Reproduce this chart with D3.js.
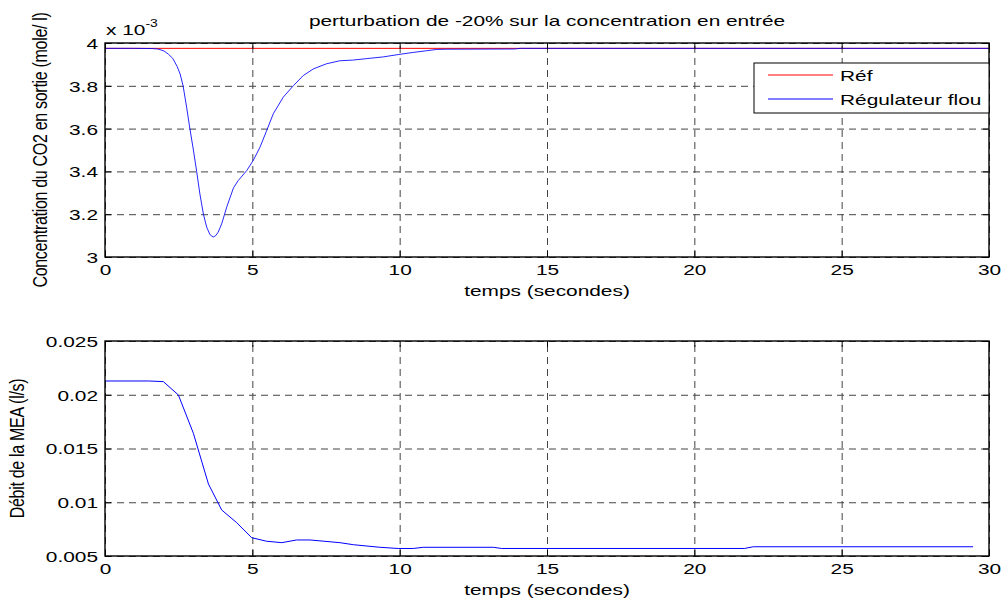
<!DOCTYPE html>
<html>
<head>
<meta charset="utf-8">
<script src="https://cdn.jsdelivr.net/npm/d3@7"></script>
<style>
  html, body { margin: 0; padding: 0; background: #fff; }
  svg { display: block; }
  text { font-family: "Liberation Sans", Arial, sans-serif; fill: #000; }
</style>
</head>
<body>
<svg id="chart" width="1004" height="598"></svg>
<script>
// ---------- data ----------
const titleText = "perturbation de -20% sur la concentration en entrée";
const xLabel = "temps (secondes)";
const yLabelTop = "Concentration du CO2 en sortie (mole/ l)";
const yLabelBottom = "Débit de la MEA (l/s)";
const legendLabels = ["Réf", "Régulateur flou"];

const xTicks = [0, 5, 10, 15, 20, 25, 30];
const yTicksTop = [3, 3.2, 3.4, 3.6, 3.8, 4];           // ×10^-3
const yTicksBottom = [0.005, 0.01, 0.015, 0.02, 0.025];

// Reference concentration (×10^-3 mole/l)
const refTime = [0, 30];
const refConc = [3.975, 3.975];

// Fuzzy controller output concentration (×10^-3 mole/l)
const fuzzyTime = [0, 1.0, 1.6, 1.8, 2.0, 2.15, 2.3, 2.45, 2.55, 2.65, 2.77, 2.88, 3.0, 3.11, 3.22, 3.34, 3.45, 3.56, 3.67, 3.76, 3.84, 3.96, 4.13, 4.36, 4.52, 4.81, 5.03, 5.26, 5.47, 5.71, 6.05, 6.39, 6.73, 7.07, 7.52, 7.97, 8.4, 8.88, 9.44, 9.95, 10.46, 10.92, 11.26, 11.6, 13.9, 14.1, 30];
const fuzzyConc = [3.975, 3.975, 3.974, 3.972, 3.963, 3.948, 3.928, 3.89, 3.855, 3.80, 3.70, 3.60, 3.50, 3.40, 3.295, 3.20, 3.14, 3.105, 3.093, 3.10, 3.116, 3.155, 3.233, 3.323, 3.357, 3.404, 3.451, 3.513, 3.585, 3.669, 3.747, 3.80, 3.848, 3.879, 3.903, 3.917, 3.920, 3.927, 3.935, 3.946, 3.956, 3.964, 3.970, 3.971, 3.972, 3.975, 3.975];

// MEA flow rate (l/s)
const flowTime = [0, 1.5, 1.98, 2.49, 3.0, 3.51, 3.96, 4.47, 4.98, 5.49, 6.0, 6.5, 6.96, 7.97, 8.43, 9.33, 9.95, 10.46, 10.8, 13.18, 13.46, 21.7, 22.0, 29.46];
const flowRate = [0.02128, 0.02128, 0.02122, 0.01998, 0.01641, 0.0117, 0.00928, 0.0081, 0.0067, 0.00637, 0.00624, 0.00649, 0.00649, 0.00624, 0.00605, 0.00581, 0.0057, 0.0057, 0.00581, 0.00581, 0.0057, 0.0057, 0.00586, 0.00586];

// ---------- layout ----------
const SX = 1.39;            // horizontal text stretch of the reference
const FS = 15;
const left = 105, right = 989;
const panels = [
  { top: 43, bottom: 257, yDomain: [3, 4], yTicks: yTicksTop, fmt: d => String(d), label: yLabelTop, labelX: 47 },
  { top: 341, bottom: 556, yDomain: [0.005, 0.025], yTicks: yTicksBottom, fmt: d => String(d), label: yLabelBottom, labelX: 24 }
];

const svg = d3.select("#chart");
const x = d3.scaleLinear().domain([0, 30]).range([left, right]);

panels.forEach((p, i) => {
  const y = d3.scaleLinear().domain(p.yDomain).range([p.bottom, p.top]);
  p.y = y;
  const h = p.bottom - p.top, w = right - left;
  const g = svg.append("g");

  g.append("rect").attr("x", left).attr("y", p.top).attr("width", w).attr("height", h).attr("fill", "#fff");

  // grid
  const gx = g.append("g").attr("transform", `translate(0,${p.bottom})`)
    .call(d3.axisBottom(x).tickValues(xTicks).tickSize(-h).tickFormat(""));
  const gy = g.append("g").attr("transform", `translate(${left},0)`)
    .call(d3.axisLeft(y).tickValues(p.yTicks).tickSize(-w).tickFormat(""));
  [gx, gy].forEach(a => {
    a.select(".domain").remove();
    a.selectAll("line").attr("stroke", "#444").attr("stroke-width", 1).attr("stroke-dasharray", "7,5");
  });

  p.g = g;
});

// data lines
const lineTop = d3.line().x(d => x(d[0])).y(d => panels[0].y(d[1]));
const lineBottom = d3.line().x(d => x(d[0])).y(d => panels[1].y(d[1]));

panels[0].g.append("path").datum(d3.zip(refTime, refConc))
  .attr("d", lineTop).attr("fill", "none").attr("stroke", "#ff0000").attr("stroke-width", 1);
panels[0].g.append("path").datum(d3.zip(fuzzyTime, fuzzyConc))
  .attr("d", lineTop).attr("fill", "none").attr("stroke", "#0000ff").attr("stroke-width", 1).attr("stroke-opacity", 0.85);
panels[1].g.append("path").datum(d3.zip(flowTime, flowRate))
  .attr("d", lineBottom).attr("fill", "none").attr("stroke", "#0000ff").attr("stroke-width", 1);

panels.forEach((p, i) => {
  const g = p.g, y = p.y;
  const h = p.bottom - p.top, w = right - left;
  const tk = 6;
  // ticks inside on four sides
  const ab = g.append("g").attr("transform", `translate(0,${p.bottom})`)
    .call(d3.axisBottom(x).tickValues(xTicks).tickSize(-tk).tickFormat(d => d));
  const at = g.append("g").attr("transform", `translate(0,${p.top})`)
    .call(d3.axisTop(x).tickValues(xTicks).tickSize(-tk).tickFormat(""));
  const al = g.append("g").attr("transform", `translate(${left},0)`)
    .call(d3.axisLeft(y).tickValues(p.yTicks).tickSize(-tk).tickFormat(p.fmt));
  const ar = g.append("g").attr("transform", `translate(${right},0)`)
    .call(d3.axisRight(y).tickValues(p.yTicks).tickSize(-tk).tickFormat(""));
  [ab, at, al, ar].forEach(a => {
    a.select(".domain").remove();
    a.selectAll("line").attr("stroke", "#000").attr("stroke-width", 1);
  });
  ab.selectAll("text").attr("y", 0).attr("dy", 0)
    .attr("transform", `translate(0,18) scale(${SX},1)`)
    .style("font-size", FS + "px").style("font-family", "'Liberation Sans', Arial, sans-serif");
  al.selectAll("text").attr("x", 0).attr("dy", "0.36em")
    .attr("transform", `translate(-7,0) scale(${SX},1)`)
    .style("font-size", FS + "px").style("font-family", "'Liberation Sans', Arial, sans-serif");

  // box
  g.append("rect").attr("x", left).attr("y", p.top).attr("width", w).attr("height", h)
    .attr("fill", "none").attr("stroke", "#000").attr("stroke-width", 1.4);

  // x label
  svg.append("text").attr("text-anchor", "middle")
    .attr("transform", `translate(${(left + right) / 2},${p.bottom + 39}) scale(${SX},1)`)
    .style("font-size", FS + "px").text(xLabel);

  // y label
  svg.append("text").attr("text-anchor", "middle")
    .attr("transform", `translate(${p.labelX},${(p.top + p.bottom) / 2}) scale(1.25,1) rotate(-90)`)
    .style("font-size", "16px").style("letter-spacing", "-0.3px").text(p.label);
});

// title
svg.append("text").attr("text-anchor", "middle")
  .attr("transform", `translate(${(left + right) / 2},26) scale(${SX},1)`)
  .style("font-size", FS + "px").text(titleText);

// exponent
const ex = svg.append("text").attr("transform", `translate(106,35) scale(${SX},1)`).style("font-size", FS + "px");
ex.append("tspan").text("x 10");
ex.append("tspan").attr("dy", -8).style("font-size", "10px").text("-3");

// legend
const lg = svg.append("g");
const lgX = 754, lgY = 63, lgW = 235, lgH = 50;
lg.append("rect").attr("x", lgX).attr("y", lgY).attr("width", lgW).attr("height", lgH)
  .attr("fill", "#fff").attr("stroke", "#000").attr("stroke-width", 1);
const legendColors = ["#ff0000", "#0000ff"];
legendLabels.forEach((lab, i) => {
  const ly = lgY + 12 + i * 24;
  lg.append("line").attr("x1", lgX + 14).attr("x2", lgX + 79).attr("y1", ly).attr("y2", ly)
    .attr("stroke", legendColors[i]).attr("stroke-width", 1);
  lg.append("text").attr("transform", `translate(${lgX + 86},${ly + 6}) scale(${SX},1)`)
    .style("font-size", FS + "px").text(lab);
});
</script>
</body>
</html>
